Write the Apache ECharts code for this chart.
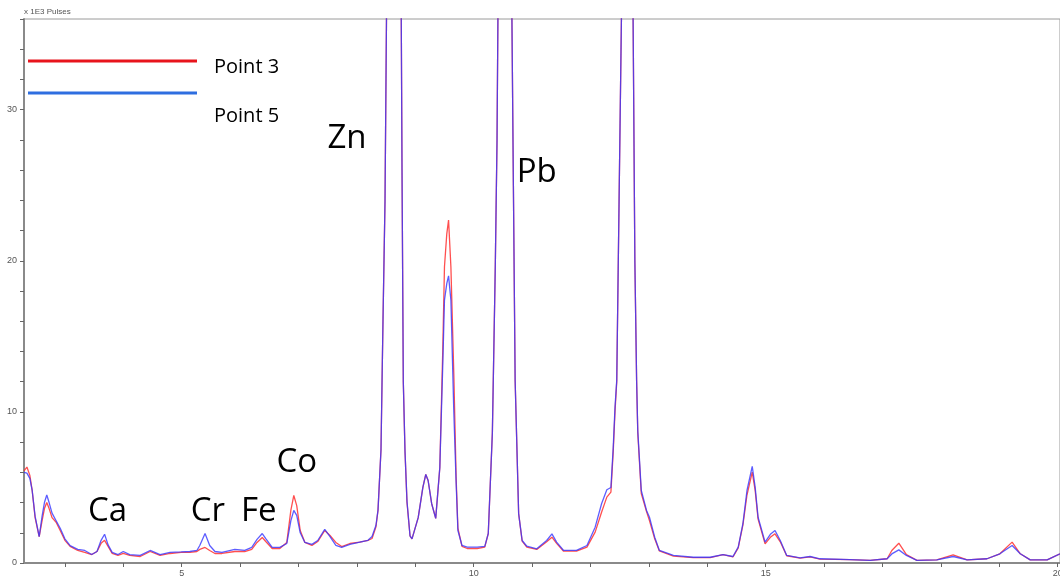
<!DOCTYPE html>
<html>
<head>
<meta charset="utf-8">
<script src="https://cdn.jsdelivr.net/npm/echarts@6/dist/echarts.min.js"></script>
<style>
  html, body { margin: 0; padding: 0; background: #fff; }
  #main { width: 1060px; height: 581px; }
</style>
</head>
<body>
<div id="main"></div>
<script>
// energy axis (keV) shared by both spectra
var energies = [
    2.30, 2.35, 2.40, 2.44, 2.49, 2.56, 2.61, 2.65, 2.69, 2.73, 2.78, 2.85, 2.92, 3.00, 3.09, 3.22,
    3.34, 3.46, 3.55, 3.62, 3.68, 3.74, 3.81, 3.91, 4.00, 4.11, 4.29, 4.46, 4.63, 4.80, 4.99,
    5.14, 5.26, 5.31, 5.40, 5.48, 5.57, 5.69, 5.91, 6.08, 6.20, 6.29, 6.38, 6.44, 6.55, 6.68,
    6.80, 6.87, 6.92, 6.97, 7.03, 7.11, 7.23, 7.33, 7.45, 7.54, 7.64, 7.74, 7.88, 8.05, 8.19,
    8.26, 8.327, 8.362, 8.413, 8.447, 8.482, 8.507, 8.567, 8.636, 8.704, 8.755, 8.773, 8.795,
    8.824, 8.858, 8.91, 8.944, 9.05, 9.13, 9.18, 9.22, 9.28, 9.35, 9.42, 9.47, 9.50, 9.54, 9.57,
    9.61, 9.66, 9.70, 9.73, 9.80, 9.89, 10.06, 10.19, 10.25, 10.32, 10.37, 10.40, 10.415, 10.48,
    10.54, 10.61, 10.655, 10.68, 10.71, 10.74, 10.77, 10.83, 10.91, 11.08, 11.25, 11.34, 11.42,
    11.54, 11.76, 11.94, 12.08, 12.19, 12.28, 12.35, 12.39, 12.42, 12.45, 12.49, 12.53, 12.63,
    12.68, 12.73, 12.76, 12.79, 12.81, 12.87, 12.96, 13.01, 13.10, 13.18, 13.42, 13.76, 14.05,
    14.27, 14.44, 14.53, 14.61, 14.68, 14.77, 14.82, 14.87, 14.99, 15.08, 15.16, 15.25, 15.36,
    15.59, 15.76, 15.93, 16.44, 16.79, 17.08, 17.16, 17.28, 17.41, 17.59, 17.93, 18.21, 18.45,
    18.79, 19.01, 19.22, 19.36, 19.53, 19.82, 20.04
]
// Point 3 (red), x 1E3 pulses
var point3 = [
    6.1, 6.35, 5.8, 4.8, 3.0, 1.75, 2.8, 3.6, 4.0, 3.6, 3.0, 2.7, 2.15, 1.5, 1.1, 0.83,
    0.7, 0.56, 0.76, 1.3, 1.5, 1.1, 0.63, 0.5, 0.63, 0.5, 0.43, 0.76, 0.5, 0.63, 0.7,
    0.7, 0.76, 0.9, 1.03, 0.83, 0.63, 0.63, 0.76, 0.76, 0.9, 1.36, 1.69, 1.42, 0.96, 0.96,
    1.36, 3.5, 4.47, 3.8, 2.15, 1.36, 1.16, 1.42, 2.15, 1.82, 1.36, 1.09, 1.29, 1.38, 1.5,
    1.62, 2.4, 3.5, 7.5, 16, 24, 36, 80, 110, 75, 40, 26, 12,
    7.4, 4.0, 1.8, 1.6, 3.0, 5.0, 5.86, 5.46, 3.94, 2.95, 6.3, 14.0, 19.6, 21.8, 22.7,
    19.6, 12.5, 5.6, 2.3, 1.1, 0.96, 0.96, 1.05, 1.95, 8.6, 19.6, 28, 36, 70,
    95, 70, 36, 25, 12.1, 7.67, 3.27, 1.45, 1.05, 0.9, 1.4, 1.71, 1.3,
    0.78, 0.78, 1.05, 2.04, 3.36, 4.36, 4.69, 7.4, 10.0, 12.0, 24, 36, 80,
    60, 36, 20, 12.1, 8.6, 4.6, 3.4, 2.81, 1.6, 0.8, 0.45, 0.35, 0.35,
    0.55, 0.4, 1.0, 2.5, 4.5, 6.01, 4.8, 2.9, 1.27, 1.7, 1.93, 1.4, 0.48,
    0.32, 0.4, 0.26, 0.22, 0.17, 0.28, 0.83, 1.31, 0.55, 0.17, 0.21, 0.54, 0.21,
    0.28, 0.61, 1.38, 0.61, 0.21, 0.21, 0.61
]
// Point 5 (blue), x 1E3 pulses
var point5 = [
    6.0, 5.95, 5.6, 4.8, 3.1, 1.75, 3.1, 4.0, 4.5, 4.0, 3.3, 2.8, 2.3, 1.6, 1.15, 0.9,
    0.83, 0.56, 0.76, 1.5, 1.9, 1.2, 0.7, 0.56, 0.76, 0.56, 0.5, 0.83, 0.56, 0.7, 0.73,
    0.76, 0.83, 1.16, 1.95, 1.16, 0.76, 0.7, 0.9, 0.83, 1.03, 1.56, 1.95, 1.62, 1.03, 1.03,
    1.29, 2.8, 3.48, 3.15, 2.0, 1.36, 1.23, 1.49, 2.22, 1.75, 1.16, 1.03, 1.23, 1.38, 1.5,
    1.75, 2.5, 3.5, 7.5, 16, 24, 36, 80, 110, 75, 40, 26, 12,
    7.4, 4.1, 1.8, 1.6, 3.0, 5.0, 5.86, 5.46, 3.94, 2.95, 6.3, 13.0, 17.4, 18.5, 19.0,
    17.4, 10.0, 5.26, 2.15, 1.16, 1.05, 1.05, 1.1, 1.95, 8.6, 19.6, 28, 36, 70,
    95, 70, 36, 25, 12.1, 7.67, 3.27, 1.49, 1.11, 0.94, 1.49, 1.93, 1.38,
    0.83, 0.83, 1.16, 2.37, 3.92, 4.85, 5.0, 7.67, 10.3, 12.1, 24, 36, 80,
    60, 36, 20, 12.1, 8.77, 4.8, 3.48, 3.03, 1.71, 0.83, 0.5, 0.38, 0.38,
    0.56, 0.43, 1.05, 2.6, 4.8, 6.39, 5.02, 3.03, 1.38, 1.9, 2.15, 1.49, 0.5,
    0.34, 0.43, 0.28, 0.22, 0.17, 0.28, 0.6, 0.87, 0.5, 0.17, 0.21, 0.43, 0.21,
    0.28, 0.61, 1.16, 0.61, 0.21, 0.21, 0.61
]
var xTicks = [3, 4, 5, 6, 7, 8, 9, 10, 11, 12, 13, 14, 15, 16, 17, 18, 19, 20]
var xLabels = [5, 10, 15, 20]
// peak annotations: [keV, value, element]
var peakLabels = [
    [3.73, 3.41, 'Ca'],
    [5.45, 3.41, 'Cr'],
    [6.32, 3.41, 'Fe'],
    [6.97, 6.66, 'Co'],
    [7.83, 28.1, 'Zn'],
    [11.08, 25.86, 'Pb']
]

var chart = echarts.init(document.getElementById('main'))

function pairs(values) {
    return energies.map(function (e, i) { return [e, values[i]] })
}

var axisGray = '#8a8a8a'
var tickFont = { fontSize: 9, color: '#555', fontFamily: 'Liberation Sans, Arial, sans-serif' }
var legendFont = 'Open Sans, Noto Sans, sans-serif'

var option = {
    backgroundColor: '#fff',
    animation: false,
    grid: {
        left: 24, right: 0, top: 19, bottom: 18,
        containLabel: false,
        outerBoundsMode: 'none',
        show: true, borderColor: '#9a9a9a', borderWidth: 1
    },
    legend: [
        {
            left: 28, top: 45, padding: 0,
            icon: 'rect', itemWidth: 169, itemHeight: 3,
            data: [{ name: 'Point 3', itemStyle: { color: '#e8141c' } }],
            formatter: '{t|{name}}',
            textStyle: {
                color: '#000',
                rich: {
                    t: { fontSize: 20, color: '#000', lineHeight: 24, fontFamily: legendFont, padding: [12, 0, 0, 12] }
                }
            }
        },
        {
            left: 28, top: 60, padding: 0,
            icon: 'rect', itemWidth: 169, itemHeight: 3,
            data: [{ name: 'Point 5', itemStyle: { color: '#2e6ee0' } }],
            formatter: '{t|{name}}',
            textStyle: {
                color: '#000',
                rich: {
                    t: { fontSize: 20, color: '#000', lineHeight: 24, fontFamily: legendFont, padding: [46, 0, 0, 12] }
                }
            }
        }
    ],
    xAxis: {
        type: 'value',
        min: 2.3, max: 20.04,
        name: '- keV -',
        nameLocation: 'middle',
        nameGap: 14,
        nameTextStyle: { fontSize: 8, color: '#777' },
        axisLine: { show: true, onZero: false, lineStyle: { color: axisGray, width: 2 } },
        axisTick: { show: true, customValues: xTicks, length: 4, lineStyle: { color: '#666' } },
        axisLabel: Object.assign({ customValues: xLabels, margin: 6 }, tickFont),
        splitLine: { show: false }
    },
    yAxis: {
        type: 'value',
        min: 0, max: 36, interval: 2,
        name: 'x 1E3 Pulses',
        nameLocation: 'end',
        nameGap: 3,
        nameTextStyle: { fontSize: 8, color: '#555', align: 'left' },
        axisLine: { show: true, lineStyle: { color: axisGray, width: 2 } },
        axisTick: { show: true, length: 4, lineStyle: { color: '#666' } },
        axisLabel: Object.assign({
            margin: 7,
            formatter: function (v) { return v % 10 === 0 ? String(v) : '' }
        }, tickFont),
        splitLine: { show: false }
    },
    series: [
        {
            name: 'Point 3',
            type: 'line',
            data: pairs(point3),
            showSymbol: false,
            clip: true,
            lineStyle: { color: '#ff3030', width: 1.3, opacity: 0.85 },
            itemStyle: { color: '#ff3030' }
        },
        {
            name: 'Point 5',
            type: 'line',
            data: pairs(point5),
            showSymbol: false,
            clip: true,
            lineStyle: { color: '#3535ff', width: 1.3, opacity: 0.8 },
            itemStyle: { color: '#3535ff' }
        },
        {
            name: 'peaks',
            type: 'scatter',
            data: peakLabels,
            symbolSize: 1,
            itemStyle: { color: 'rgba(0,0,0,0)' },
            silent: true,
            label: {
                show: true,
                position: 'inside',
                formatter: function (p) { return p.data[2] },
                fontSize: 33,
                color: '#000',
                opacity: 1,
                fontFamily: legendFont
            }
        }
    ]
}

chart.setOption(option)
</script>
</body>
</html>
